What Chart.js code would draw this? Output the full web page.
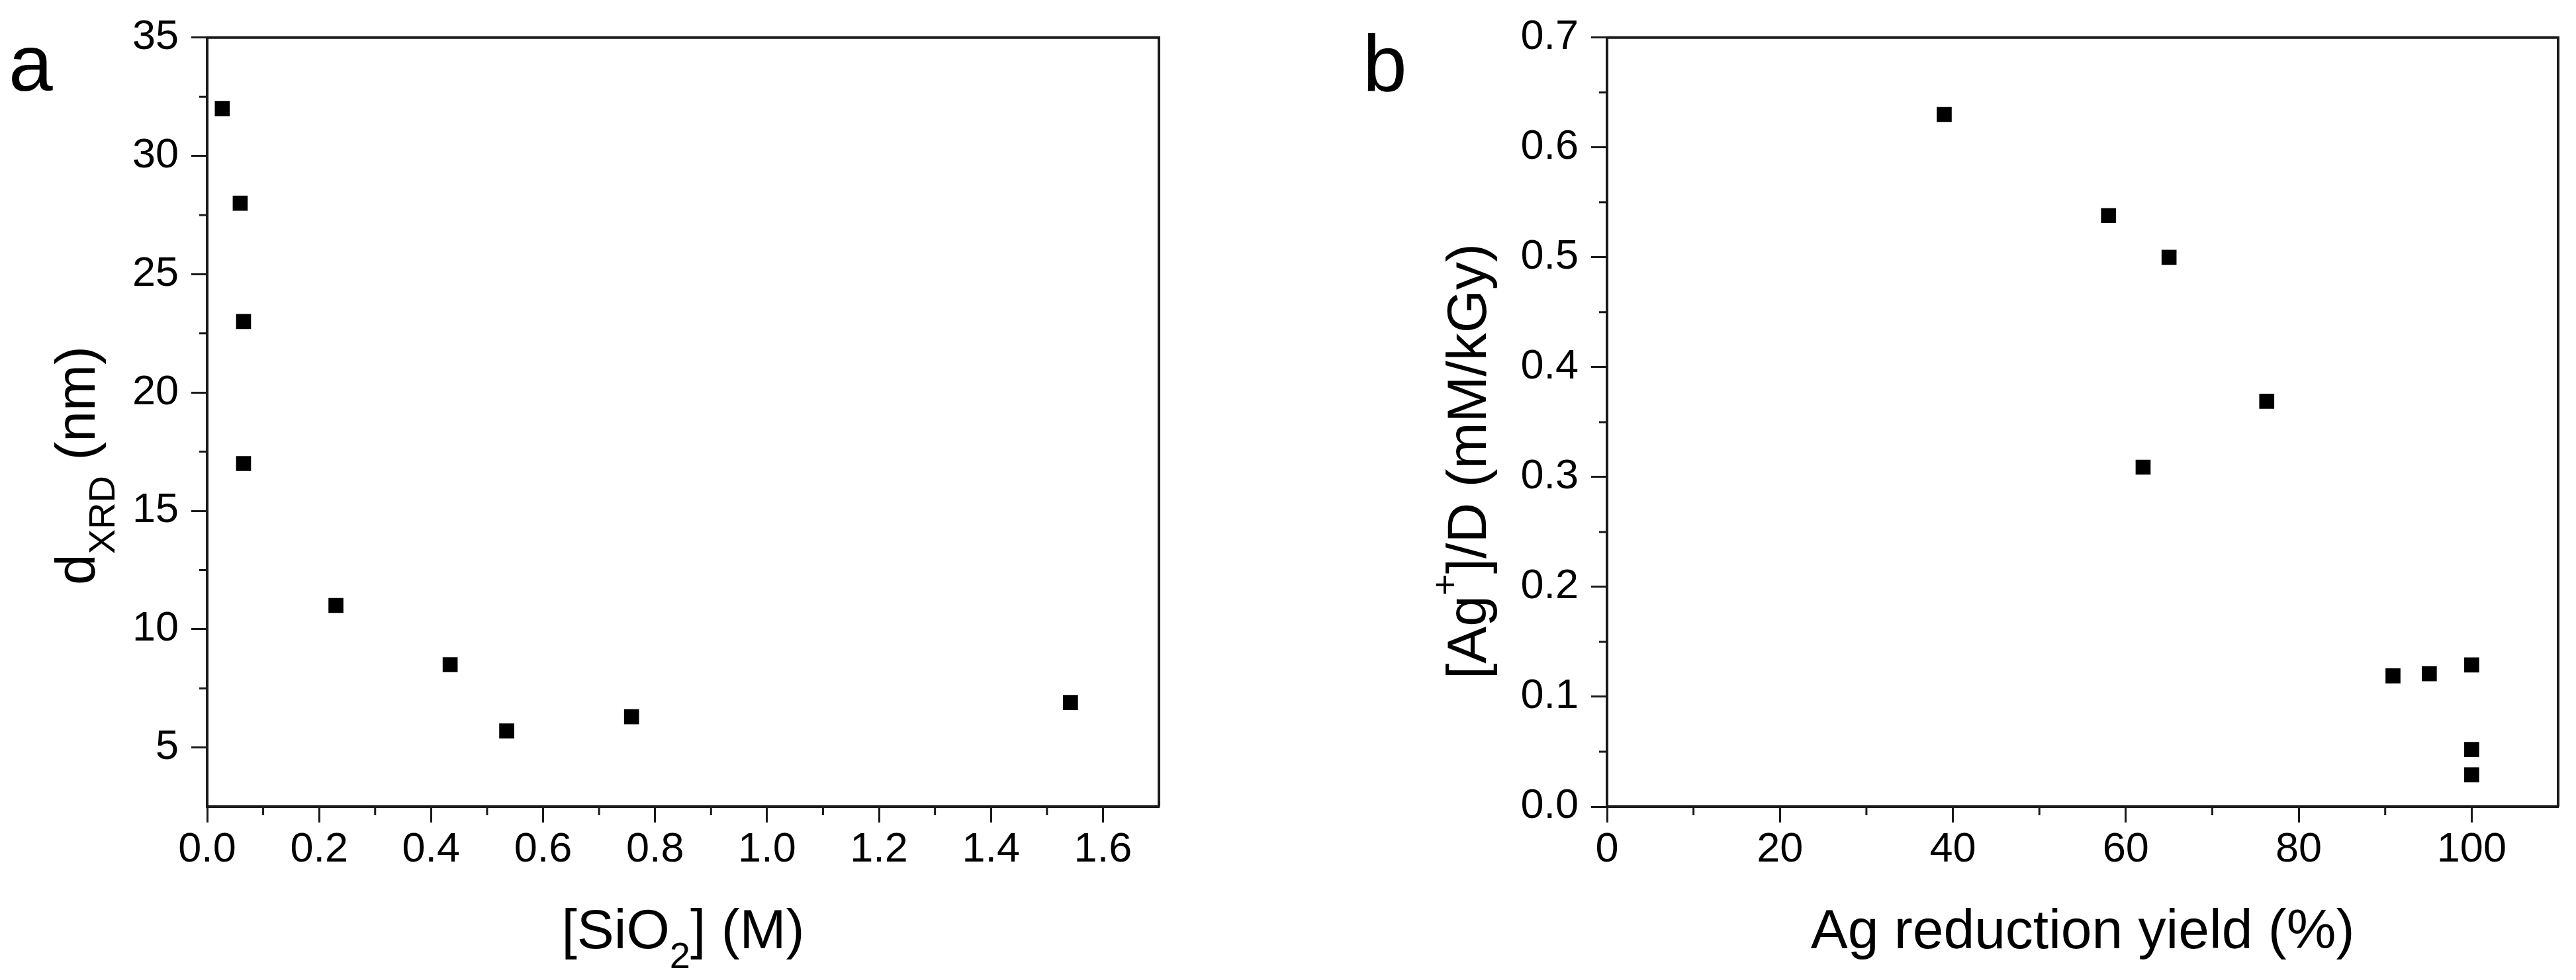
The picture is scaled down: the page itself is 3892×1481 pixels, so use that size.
<!DOCTYPE html>
<html>
<head>
<meta charset="utf-8">
<script src="https://cdn.jsdelivr.net/npm/chart.js@4.4.1/dist/chart.umd.min.js"></script>
<style>
  html, body { margin: 0; padding: 0; background: #fff; }
  #wrap { position: relative; width: 3892px; height: 1481px; }
  canvas { position: absolute; top: 0; }
  #chartA { left: 0; }
  #chartB { left: 1946px; }
</style>
</head>
<body>
<div id="wrap">
  <canvas id="chartA" width="1946" height="1481"></canvas>
  <canvas id="chartB" width="1946" height="1481"></canvas>
</div>
<script>
// panel a : crystallite size against silica concentration
const silicaConc  = [0.027, 0.059, 0.065, 0.065, 0.23, 0.434, 0.535, 0.758, 1.542];
const crystalSize = [32, 28, 23, 17, 11, 8.5, 5.7, 6.3, 6.9];
const silicaTicks = [0, 0.2, 0.4, 0.6, 0.8, 1.0, 1.2, 1.4, 1.6];
const sizeTicks   = [5, 10, 15, 20, 25, 30, 35];

// panel b : Ag+ per dose against reduction yield
const reductionYield = [39, 58, 65, 62, 76.3, 90.9, 95.1, 100, 100, 100];
const agPerDose      = [0.63, 0.538, 0.50, 0.309, 0.369, 0.119, 0.121, 0.129, 0.052, 0.029];
const yieldTicks = [0, 20, 40, 60, 80, 100];
const doseTicks  = [0, 0.1, 0.2, 0.3, 0.4, 0.5, 0.6, 0.7];

const FAMILY = "'Liberation Sans', Arial, sans-serif";
const INK = '#1a1a1a';
Chart.defaults.font.family = FAMILY;
Chart.defaults.color = '#000';

function scaleOpts(min, max, ticks, digits, pad, fitProp, fitSize) {
  return {
    type: 'linear',
    min: min,
    max: max,
    afterBuildTicks: s => { s.ticks = ticks.map(v => ({ value: v })); },
    afterFit: s => { s[fitProp] = fitSize; },
    border: { display: true, color: INK, width: 4 },
    grid: { display: true, drawOnChartArea: false, drawTicks: true, tickLength: 24, tickWidth: 3, tickColor: INK },
    ticks: {
      color: '#000', font: { size: 63 }, padding: pad,
      maxRotation: 0, autoSkip: false,
      callback: v => Number(v).toFixed(digits)
    }
  };
}

// text with sub/superscript parts: [text, 'n'|'sub'|'sup']
function drawRich(ctx, parts, x, y, angle, align) {
  const fontOf = k => (k === 'n' ? 84 : 56) + 'px ' + FAMILY;
  ctx.save();
  ctx.translate(x, y);
  ctx.rotate(angle);
  let total = 0;
  parts.forEach(p => { ctx.font = fontOf(p[1]); total += ctx.measureText(p[0]).width; });
  let cx = align === 'center' ? -total / 2 : (align === 'end' ? -total : 0);
  ctx.textAlign = 'left';
  ctx.textBaseline = 'alphabetic';
  ctx.fillStyle = '#000';
  parts.forEach(p => {
    ctx.font = fontOf(p[1]);
    const dy = p[1] === 'sub' ? 30 : (p[1] === 'sup' ? -43 : 0);
    ctx.fillText(p[0], cx, dy);
    cx += ctx.measureText(p[0]).width;
  });
  ctx.restore();
}

function midpoints(ticks) {
  const out = [];
  for (let i = 1; i < ticks.length; i++) out.push((ticks[i - 1].value + ticks[i].value) / 2);
  return out;
}

// closing box, minor ticks, axis titles and panel letter
function makeFrame(cfg) {
  return {
    id: 'frame',
    afterDraw(chart) {
      const { ctx, chartArea: a } = chart;
      const xs = chart.scales.x, ys = chart.scales.y;
      ctx.save();
      ctx.strokeStyle = INK;
      ctx.lineWidth = 4;
      ctx.beginPath();
      ctx.moveTo(a.left, a.top);
      ctx.lineTo(a.right, a.top);
      ctx.lineTo(a.right, a.bottom);
      ctx.stroke();

      ctx.lineWidth = 3;
      ctx.beginPath();
      midpoints(xs.ticks).forEach(v => {
        const p = xs.getPixelForValue(v);
        ctx.moveTo(p, a.bottom); ctx.lineTo(p, a.bottom + 13);
      });
      midpoints(ys.ticks).forEach(v => {
        const p = ys.getPixelForValue(v);
        ctx.moveTo(a.left, p); ctx.lineTo(a.left - 12, p);
      });
      ctx.stroke();
      ctx.restore();

      drawRich(ctx, cfg.xTitle, (a.left + a.right) / 2, 1433, 0, 'center');
      drawRich(ctx, cfg.yTitle, cfg.yTitleX, cfg.yTitleEnd, -Math.PI / 2, 'end');

      ctx.save();
      ctx.fillStyle = '#000';
      ctx.font = '120px ' + FAMILY;
      ctx.textBaseline = 'alphabetic';
      ctx.fillText(cfg.panel, cfg.panelX, 137);
      ctx.restore();
    }
  };
}

const pointStyle = {
  pointStyle: 'rect',
  pointRadius: 16,
  pointBorderWidth: 0,
  pointBackgroundColor: '#000',
  showLine: false
};

new Chart(document.getElementById('chartA'), {
  type: 'scatter',
  data: {
    datasets: [{
      label: 'dXRD',
      data: silicaConc.map((x, i) => ({ x: x, y: crystalSize[i] })),
      ...pointStyle
    }]
  },
  options: {
    responsive: false,
    devicePixelRatio: 1,
    animation: false,
    events: [],
    layout: { padding: { top: 50, right: 195, left: 0, bottom: 0 } },
    plugins: { legend: { display: false }, tooltip: { enabled: false } },
    scales: {
      x: scaleOpts(0, 1.7, silicaTicks, 1, 4, 'height', 262),
      y: scaleOpts(2.5, 35, sizeTicks, 0, 19, 'width', 313)
    }
  },
  plugins: [makeFrame({
    xTitle: [['[SiO', 'n'], ['2', 'sub'], ['] (M)', 'n']],
    yTitle: [['d', 'n'], ['XRD', 'sub'], [' (nm)', 'n']],
    yTitleX: 143, yTitleEnd: 523,
    panel: 'a', panelX: 13
  })]
});

new Chart(document.getElementById('chartB'), {
  type: 'scatter',
  data: {
    datasets: [{
      label: '[Ag+]/D',
      data: reductionYield.map((x, i) => ({ x: x, y: agPerDose[i] })),
      ...pointStyle
    }]
  },
  options: {
    responsive: false,
    devicePixelRatio: 1,
    animation: false,
    events: [],
    layout: { padding: { top: 50, right: 27, left: 0, bottom: 0 } },
    plugins: { legend: { display: false }, tooltip: { enabled: false } },
    scales: {
      x: scaleOpts(0, 110, yieldTicks, 0, 4, 'height', 262),
      y: scaleOpts(0, 0.7, doseTicks, 1, 19, 'width', 482)
    }
  },
  plugins: [makeFrame({
    xTitle: [['Ag reduction yield (%)', 'n']],
    yTitle: [['[Ag', 'n'], ['+', 'sup'], [']/D (mM/kGy)', 'n']],
    yTitleX: 299, yTitleEnd: 368,
    panel: 'b', panelX: 113
  })]
});
</script>
</body>
</html>
